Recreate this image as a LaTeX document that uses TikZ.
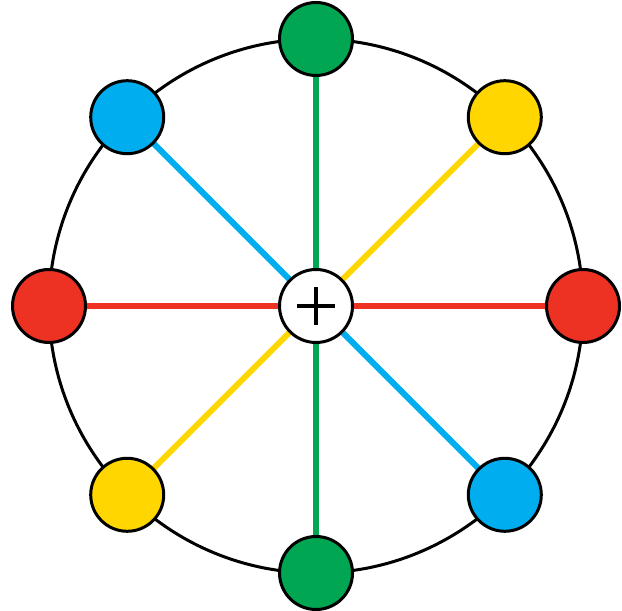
\documentclass[tikz,border=0pt]{standalone}
\usetikzlibrary{backgrounds,calc}
\definecolor{wheelred}{RGB}{237,50,36}
\definecolor{wheelgreen}{RGB}{0,166,81}
\definecolor{wheelblue}{RGB}{0,174,239}
\definecolor{wheelyellow}{RGB}{255,214,0}
\begin{document}
\begin{tikzpicture}[
  x=1bp, y=1bp,
  spot/.style={circle, draw=black, line width=3bp, minimum size=73bp, inner sep=0pt},
  spoke/.style={line width=6bp},
  rim/.style={draw=black, line width=3bp},
  plus/.style={path picture={
    \draw[line width=4bp] ([xshift=-19bp]path picture bounding box.center) -- ++(38bp,0);
    \draw[line width=4bp] ([yshift=-19bp]path picture bounding box.center) -- ++(0,38bp);
  }}
]
\useasboundingbox (0,0) rectangle (622,611);

\node[spot, plus, fill=white] (hub) at (316,305) {};
\foreach \name/\ang/\col in {e/0/wheelred, ne/45/wheelyellow, n/90/wheelgreen, nw/135/wheelblue,
                             w/180/wheelred, sw/225/wheelyellow, s/270/wheelgreen, se/315/wheelblue}
  \node[spot, fill=\col] (\name) at ($(hub.center)+(\ang:267)$) {};

\begin{scope}[on background layer]
  \draw[rim] (hub.center) circle[radius=267];
  \foreach \name/\col in {e/wheelred, ne/wheelyellow, n/wheelgreen, nw/wheelblue,
                          w/wheelred, sw/wheelyellow, s/wheelgreen, se/wheelblue}
    \draw[spoke, \col] (\name.center) -- (hub.center);
\end{scope}

\end{tikzpicture}
\end{document}
